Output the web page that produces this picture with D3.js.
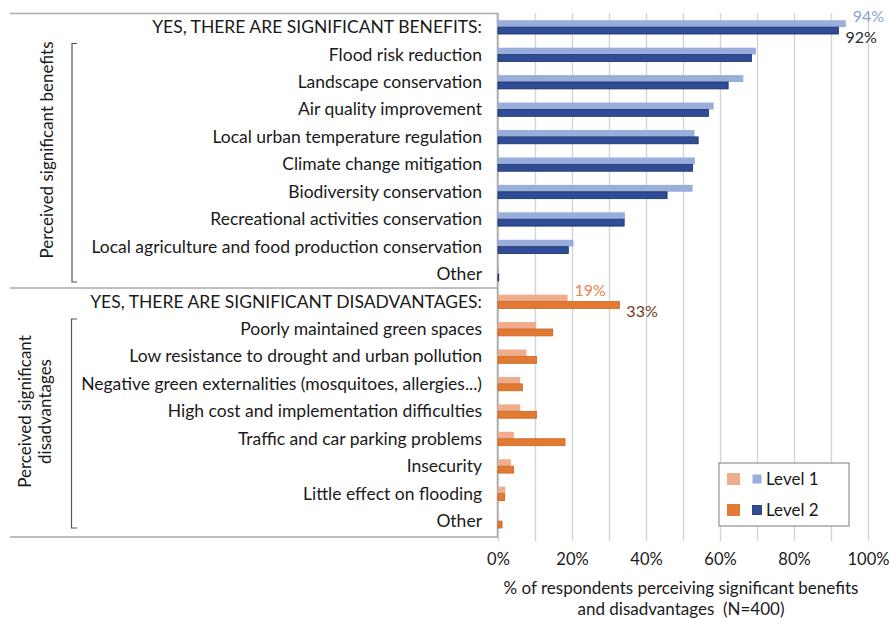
<!DOCTYPE html>
<html><head><meta charset="utf-8">
<script src="https://cdn.jsdelivr.net/npm/d3@7"></script>
<style>body{margin:0;background:#fff} text{font-family:Lato,"Noto Sans",sans-serif;fill:#1a1a1a}</style>
</head><body><svg id="c" width="891" height="619"></svg>
<script>
const categories = [
  "YES, THERE ARE SIGNIFICANT BENEFITS:",
  "Flood risk reduction",
  "Landscape conservation",
  "Air quality improvement",
  "Local urban temperature regulation",
  "Climate change mitigation",
  "Biodiversity conservation",
  "Recreational activities conservation",
  "Local agriculture and food production conservation",
  "Other",
  "YES, THERE ARE SIGNIFICANT DISADVANTAGES:",
  "Poorly maintained green spaces",
  "Low resistance to drought and urban pollution",
  "Negative green externalities (mosquitoes, allergies...)",
  "High cost and implementation difficulties",
  "Traffic and car parking problems",
  "Insecurity",
  "Little effect on flooding",
  "Other"
];
const groups = ["b","b","b","b","b","b","b","b","b","b","d","d","d","d","d","d","d","d","d"];
const level1 = [94, 69.7, 66.3, 58.3, 53.1, 53.2, 52.6, 34.3, 20.4, 0.2, 18.8, 10.3, 7.7, 6.0, 6.0, 4.3, 3.5, 2.0, 0];
const level2 = [92, 68.5, 62.2, 56.9, 54.1, 52.6, 45.7, 34.1, 19.0, 0.2, 32.8, 14.8, 10.4, 6.6, 10.4, 18.1, 4.2, 1.8, 1.1];
const seriesNames = ["Level 1", "Level 2"];
const tickValues = [0, 20, 40, 60, 80, 100];
const gridValues = [0,10,20,30,40,50,60,70,80,90,100];
const groupTitles = [["Perceived significant benefits"], ["Perceived significant", "disadvantages"]];
const labelRows = [0, 10];
const axisTitle = ["% of respondents perceiving significant benefits", "and disadvantages  (N=400)"];

const colors = {
  b: ["#9aaedb", "#2f4c96"],
  d: ["#f1ab8d", "#e27a33"]
};
const strokes = { b: [null, "#1c2d66"], d: [null, "#c8651f"] };
const labelColors = { b: ["#8ea2d3", "#2a2a2a"], d: ["#e6834c", "#743a20"] };

const svg = d3.select("#c");
const x = d3.scaleLinear().domain([0, 100]).range([498, 868]);
const y = d3.scaleBand().domain(d3.range(categories.length)).range([13.3, 534.7]);
const ys = d3.scaleBand().domain(seriesNames).range([-6.8, 7]);

// gridlines + ticks
const grid = svg.append("g").attr("transform", "translate(0,541)")
  .call(d3.axisBottom(x).tickValues(gridValues).tickSize(-528).tickFormat(""));
grid.select(".domain").remove();
grid.selectAll(".tick line").attr("stroke", "#d4d4d4").attr("stroke-width", 1.4);

const ax = svg.append("g").attr("transform", "translate(0,541)")
  .call(d3.axisBottom(x).tickValues(tickValues).tickSize(0).tickPadding(12).tickFormat(d => d + "%"));
ax.select(".domain").remove();
ax.selectAll("text").attr("font-size", 16.5).style("font-family", "Lato").attr("fill", "#1a1a1a");

// left panel frame
const frame = svg.append("g").attr("stroke", "#a9a9a9").attr("stroke-width", 1.5).attr("fill", "none");
frame.append("path").attr("d", "M10,13.5H497.5V537H10");
frame.append("line").attr("x1", 10).attr("x2", 497.5).attr("y1", 288).attr("y2", 288);

// brackets
const br = svg.append("g").attr("stroke", "#555").attr("stroke-width", 1.2).attr("fill", "none");
br.append("path").attr("d", "M77,43.5H72V282H77");
br.append("path").attr("d", "M77,319H71.5V528H77");

// group titles
const gt = [[46.5, 150], [34.5, 411.5]];
groupTitles.forEach((lines, i) => {
  const t = svg.append("text").attr("transform", `translate(${gt[i][0]},${gt[i][1]}) rotate(-90)`)
    .attr("text-anchor", "middle").attr("font-size", 17);
  lines.forEach((l, j) => t.append("tspan").attr("x", 0).attr("dy", j === 0 ? (lines.length > 1 ? -4 : 6) : 20).text(l));
});

// category labels
svg.append("g").selectAll("text").data(categories).join("text")
  .attr("x", 482).attr("y", (d, i) => y(i) + y.bandwidth() / 2).attr("dy", "0.35em")
  .attr("text-anchor", "end").attr("font-size", 17.5).text(d => d);

// bars
const rows = categories.map((c, i) => ({ i, g: groups[i], v: [level1[i], level2[i]] }));
const rg = svg.append("g").selectAll("g").data(rows).join("g")
  .attr("transform", d => `translate(0,${y(d.i) + y.bandwidth() / 2})`);
rg.selectAll("rect").data(d => d.v.map((v, k) => ({ v, k, g: d.g }))).join("rect")
  .attr("x", x(0)).attr("y", d => ys(seriesNames[d.k]))
  .attr("width", d => x(d.v) - x(0)).attr("height", ys.bandwidth())
  .attr("fill", d => colors[d.g][d.k])
  .attr("stroke", d => strokes[d.g][d.k]).attr("stroke-width", 0.8);

// value labels
labelRows.forEach(i => {
  const g = groups[i];
  const cy = y(i) + y.bandwidth() / 2;
  [level1[i], level2[i]].forEach((v, k) => {
    svg.append("text").attr("x", x(v) + 7).attr("y", k === 0 ? cy - 5 : cy + 15.5)
      .attr("font-size", 16).style("fill", labelColors[g][k]).text(Math.round(v) + "%");
  });
});

// legend
const lg = svg.append("g");
lg.append("rect").attr("x", 719).attr("y", 463).attr("width", 130).attr("height", 63)
  .attr("fill", "#fff").attr("stroke", "#9a9a9a").attr("stroke-width", 1.3);
seriesNames.forEach((s, k) => {
  const cy = 479 + k * 31;
  lg.append("rect").attr("x", 727).attr("y", cy - 6).attr("width", 13).attr("height", 12).attr("fill", colors.d[k]);
  lg.append("rect").attr("x", 752.5).attr("y", cy - 4.5).attr("width", 9).attr("height", 9)
    .attr("fill", colors.b[k]).attr("stroke", strokes.b[k]).attr("stroke-width", 0.8);
  lg.append("text").attr("x", 766).attr("y", cy).attr("dy", "0.35em").attr("font-size", 17).text(s);
});

// axis title
axisTitle.forEach((t, j) => svg.append("text").attr("x", 681).attr("y", 594 + j * 21)
  .attr("text-anchor", "middle").attr("font-size", 17).style("white-space", "pre").text(t));
</script></body></html>
